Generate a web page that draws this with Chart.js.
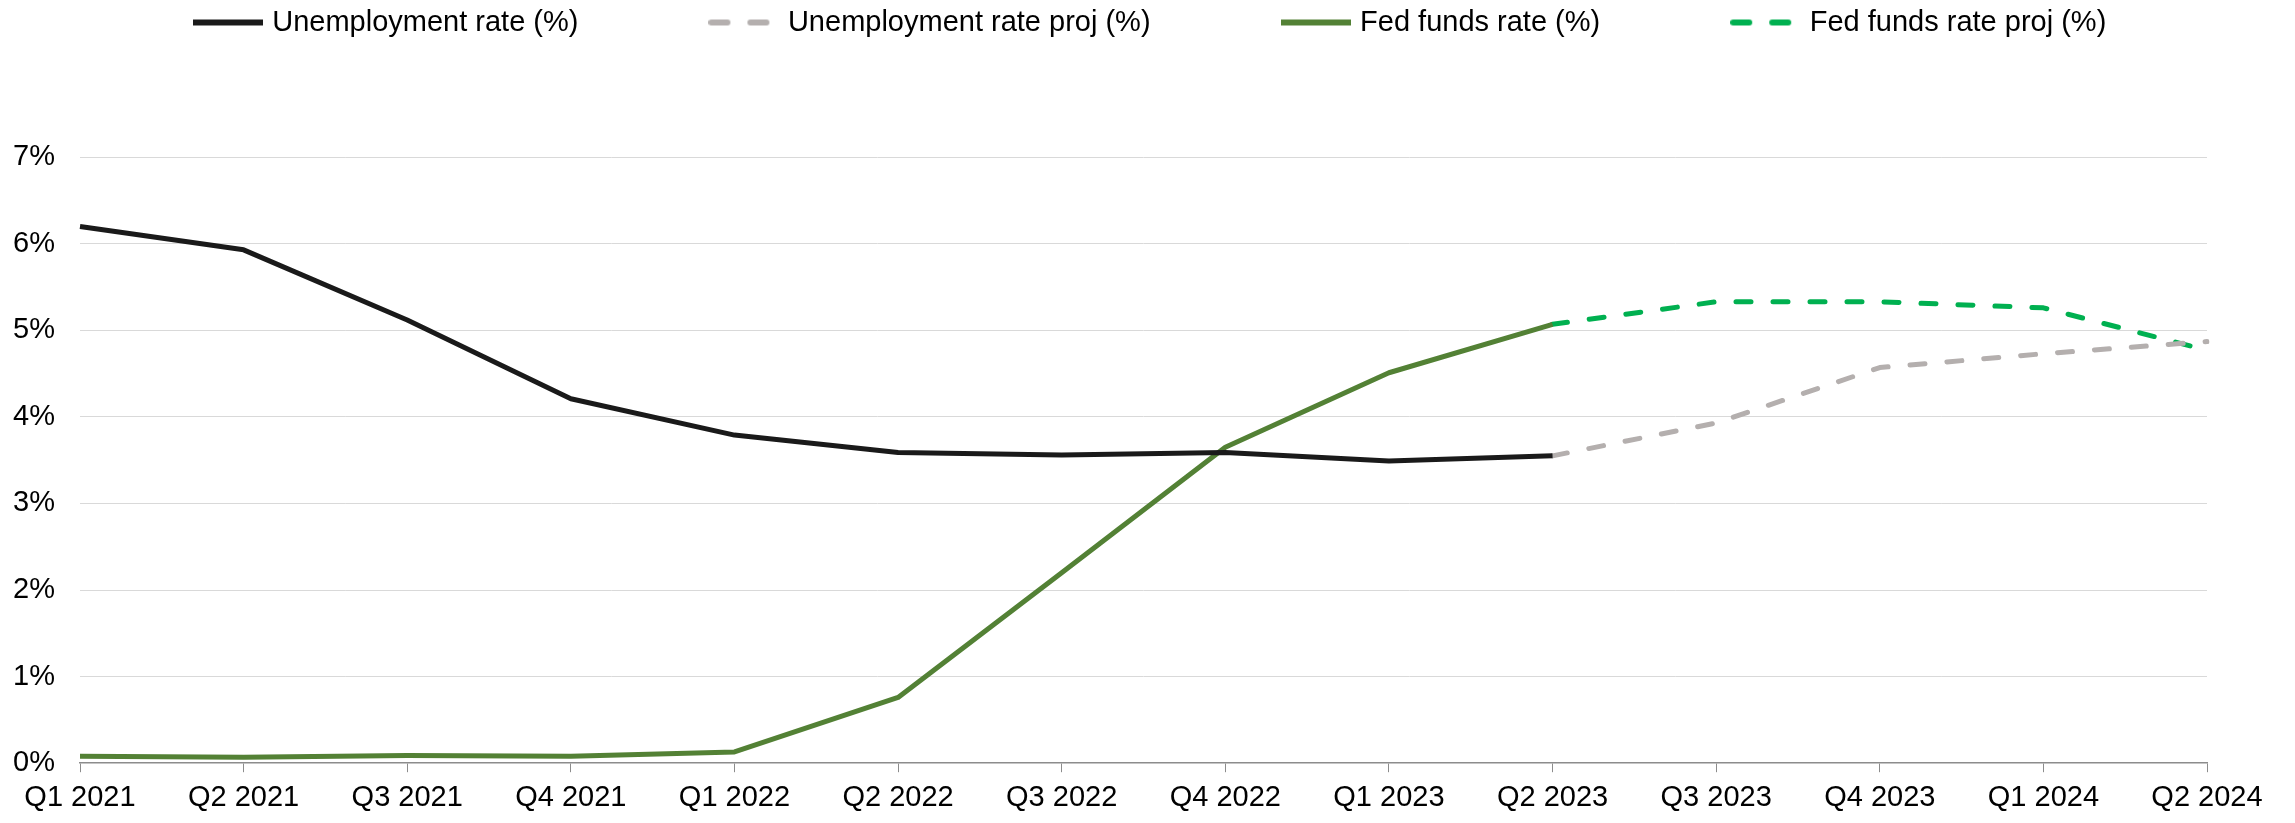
<!DOCTYPE html>
<html>
<head>
<meta charset="utf-8">
<script src="https://cdn.jsdelivr.net/npm/chart.js@4/dist/chart.umd.min.js"></script>
<style>
  html, body { margin: 0; padding: 0; background: #ffffff; }
  #wrap { width: 2295px; height: 823px; position: relative; }
</style>
</head>
<body>
<div id="wrap"><canvas id="c"></canvas></div>
<script>
const quarters = ['Q1 2021','Q2 2021','Q3 2021','Q4 2021','Q1 2022','Q2 2022','Q3 2022','Q4 2022','Q1 2023','Q2 2023','Q3 2023','Q4 2023','Q1 2024','Q2 2024'];
const unemploymentRate = [6.20, 5.93, 5.12, 4.21, 3.79, 3.59, 3.56, 3.59, 3.49, 3.55, null, null, null, null];
const unemploymentRateProj = [null, null, null, null, null, null, null, null, null, 3.55, 3.93, 4.57, 4.73, 4.87];
const fedFundsRate = [0.08, 0.07, 0.09, 0.08, 0.13, 0.76, 2.20, 3.65, 4.51, 5.07, null, null, null, null];
const fedFundsRateProj = [null, null, null, null, null, null, null, null, null, 5.07, 5.33, 5.33, 5.26, 4.77];
const yTicks = [0, 1, 2, 3, 4, 5, 6, 7];

const FONT = '"Liberation Sans", Arial, sans-serif';
Chart.defaults.font.family = FONT;
Chart.defaults.font.size = 29;
Chart.defaults.color = '#000000';

const SW_W = 70, SW_H = 10;
function makeSwatch(color, dash) {
  const cv = document.createElement('canvas');
  cv.width = SW_W; cv.height = SW_H;
  const c = cv.getContext('2d');
  c.strokeStyle = color;
  c.lineWidth = 6;
  c.lineCap = dash ? 'round' : 'butt';
  if (dash) c.setLineDash(dash);
  c.beginPath();
  c.moveTo(dash ? 3 : 0, SW_H / 2);
  c.lineTo(SW_W, SW_H / 2);
  c.stroke();
  return cv;
}

const legendDash = [16, 23];
const plotDash = [15, 22];
const LEGEND_PAD = 135;

const legendShift = {
  id: 'legendShift',
  afterLayout(chart) {
    const lg = chart.legend;
    if (lg) { lg.left += 42; lg.right += 42; }
  }
};

new Chart(document.getElementById('c'), {
  type: 'line',
  data: {
    labels: quarters,
    datasets: [
      { label: 'Unemployment rate (%)', data: unemploymentRate, borderColor: '#1a1a1a', backgroundColor: '#1a1a1a', borderWidth: 5, pointRadius: 0, borderJoinStyle: 'round', tension: 0 },
      { label: 'Unemployment rate proj (%)', data: unemploymentRateProj, borderColor: '#b4afae', backgroundColor: '#b4afae', borderWidth: 5, borderDash: plotDash, borderCapStyle: 'round', borderJoinStyle: 'round', pointRadius: 0, tension: 0 },
      { label: 'Fed funds rate (%)', data: fedFundsRate, borderColor: '#538135', backgroundColor: '#538135', borderWidth: 5, pointRadius: 0, borderJoinStyle: 'round', tension: 0 },
      { label: 'Fed funds rate proj (%)', data: fedFundsRateProj, borderColor: '#00b050', backgroundColor: '#00b050', borderWidth: 5, borderDash: plotDash, borderCapStyle: 'round', borderJoinStyle: 'round', pointRadius: 0, tension: 0 }
    ]
  },
  plugins: [legendShift],
  options: {
    responsive: true,
    maintainAspectRatio: false,
    animation: false,
    layout: { padding: { top: 8 - LEGEND_PAD, left: 13, right: 88, bottom: 0 } },
    plugins: {
      legend: {
        position: 'top',
        weight: 3000,
        fullSize: true,
        labels: {
          usePointStyle: true,
          pointStyleWidth: 60,
          padding: LEGEND_PAD,
          color: '#000000',
          font: { size: 29 },
          generateLabels: (chart) => Chart.defaults.plugins.legend.labels.generateLabels(chart).map(l => {
            const ds = chart.data.datasets[l.datasetIndex];
            l.pointStyle = makeSwatch(ds.borderColor, ds.borderDash ? legendDash : null);
            return l;
          })
        }
      },
      title: { display: true, text: '', font: { size: 1 }, padding: { top: 0, bottom: 109 } },
      tooltip: { enabled: false }
    },
    scales: {
      x: {
        grid: { drawOnChartArea: false, drawTicks: true, tickLength: 9, color: '#8c8c8c', lineWidth: 1 },
        border: { display: true, color: '#8c8c8c', width: 1.5 },
        ticks: { padding: 8, maxRotation: 0, autoSkip: false, color: '#000000', font: { size: 29 } },
        offset: false
      },
      y: {
        min: 0,
        max: 7,
        afterBuildTicks: (axis) => { axis.ticks = yTicks.map(v => ({ value: v })); },
        afterFit: (axis) => { axis.width = 67; },
        grid: { color: (ctx) => ctx.tick && ctx.tick.value === 0 ? 'rgba(0,0,0,0)' : '#d9d9d9', lineWidth: 1, drawTicks: false },
        border: { display: false },
        ticks: { padding: 25, color: '#000000', font: { size: 29 }, callback: (v) => v + '%' }
      }
    }
  }
});
</script>
</body>
</html>
